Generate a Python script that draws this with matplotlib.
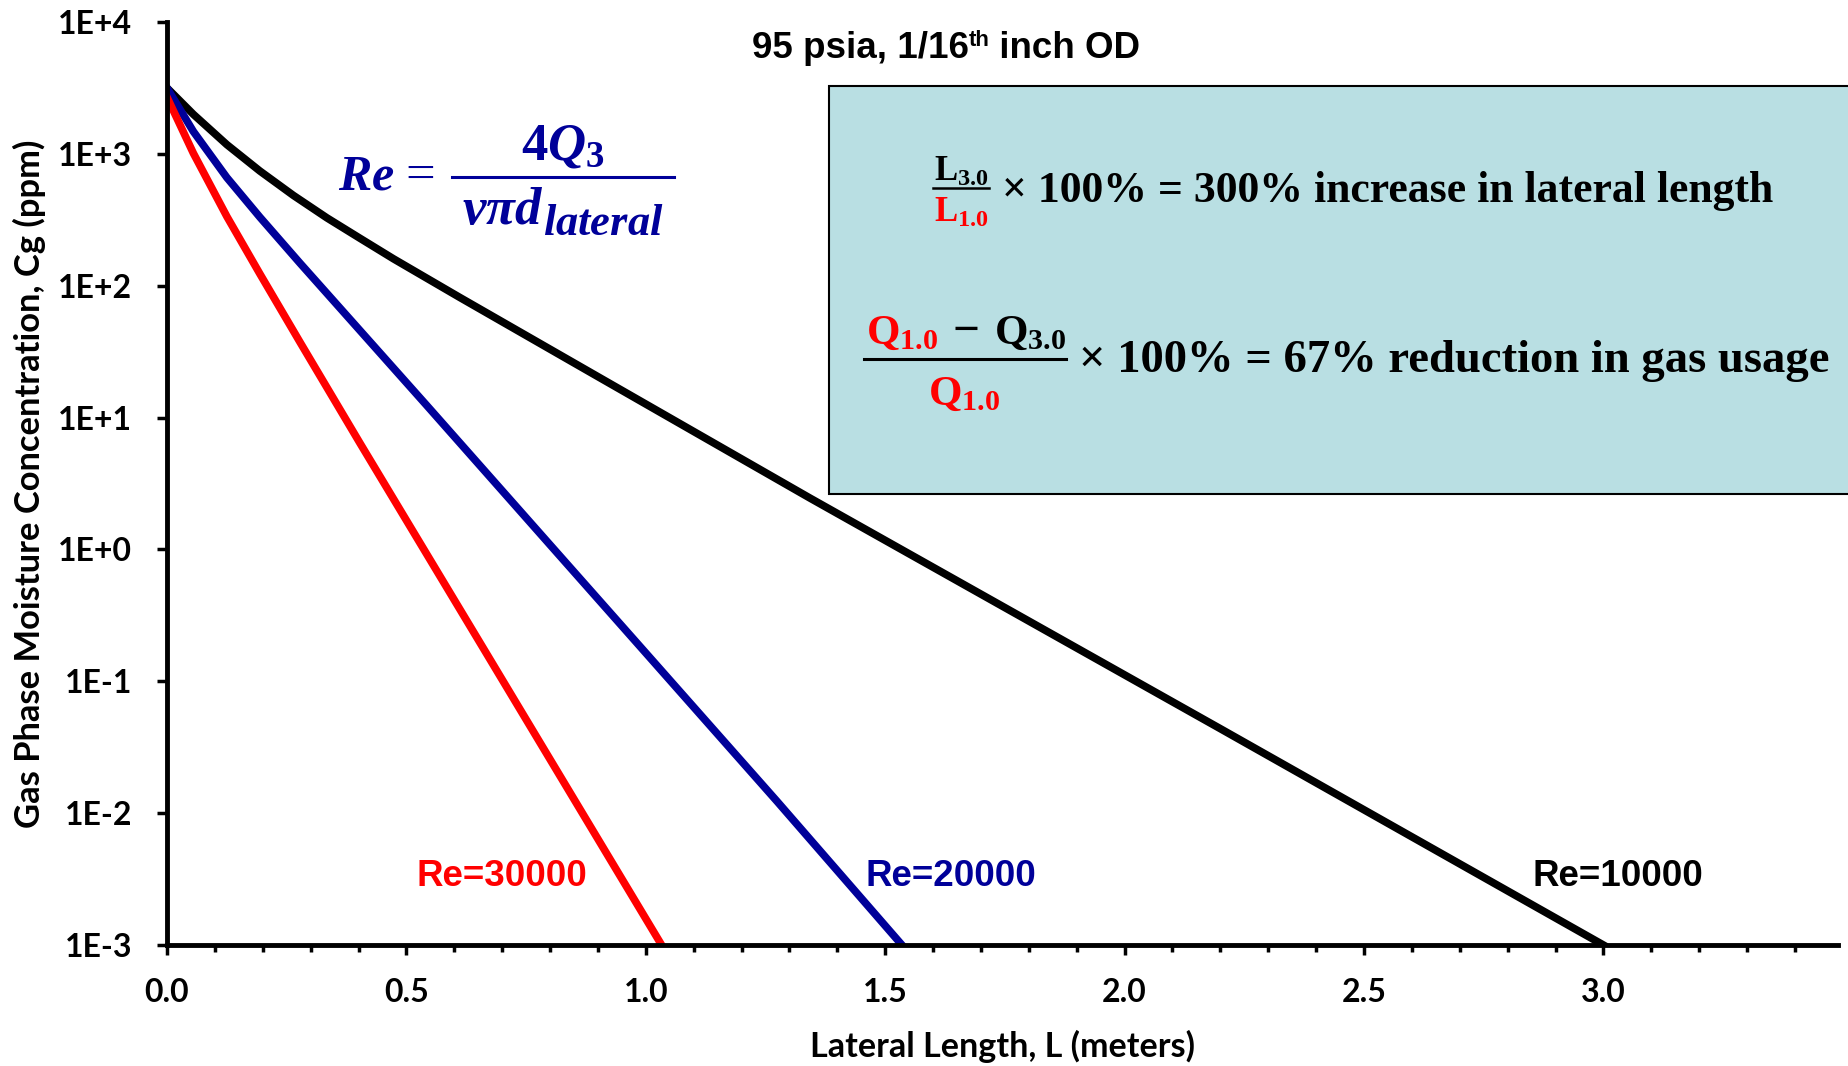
import matplotlib
matplotlib.use("Agg")
import matplotlib.pyplot as plt
from matplotlib.ticker import MultipleLocator, NullLocator
from matplotlib.patches import Rectangle
from matplotlib.lines import Line2D

# lateral length (m) -> gas phase moisture (ppm)
length_re10000 = [0.0, 0.055, 0.125, 0.194, 0.264, 0.334, 0.403, 0.473, 0.612,
                  0.905, 1.343, 2.2, 3.0]
conc_re10000 = [3162, 1995, 1175, 741, 484, 327, 229, 160, 81.3,
                19.95, 2.45, 0.0437, 0.001]

length_re20000 = [0.0, 0.055, 0.125, 0.194, 0.278, 0.543, 0.800, 1.0, 1.274, 1.535]
conc_re20000 = [3162, 1479, 661, 331, 148, 12.3, 1.084, 0.164, 0.0123, 0.001]

length_re30000 = [0.0, 0.055, 0.125, 0.194, 0.278, 0.403, 0.664, 1.033]
conc_re30000 = [2692, 1012, 335, 123, 37.2, 6.40, 0.170, 0.001]

re_labels = ["Re=10000", "Re=20000", "Re=30000"]
line_colors = ["black", "#000099", "#ff0000"]

ytick_vals = [1e-3, 1e-2, 1e-1, 1e0, 1e1, 1e2, 1e3, 1e4]
ytick_labels = ["1E-3", "1E-2", "1E-1", "1E+0", "1E+1", "1E+2", "1E+3", "1E+4"]
xtick_vals = [0.0, 0.5, 1.0, 1.5, 2.0, 2.5, 3.0]
xtick_labels = ["0.0", "0.5", "1.0", "1.5", "2.0", "2.5", "3.0"]

plt.rcParams['font.family'] = 'Lato'
plt.rcParams['font.weight'] = 'bold'
plt.rcParams['axes.labelweight'] = 'bold'
plt.rcParams['mathtext.fontset'] = 'custom'
plt.rcParams['mathtext.rm'] = 'Liberation Serif:bold'
plt.rcParams['mathtext.bf'] = 'Liberation Serif:bold'
plt.rcParams['mathtext.it'] = 'Liberation Serif:italic:bold'

W, H = 1849, 1066
fig = plt.figure(figsize=(W / 100, H / 100), dpi=100)
r = fig.canvas.get_renderer()


def px(x, y):
    # pixel position (from top left) -> figure fraction
    return x / W, 1 - y / H


def text_width(s, **kw):
    t = fig.text(0, 0, s, **kw)
    w = t.get_window_extent(r).width
    t.remove()
    return w


# axes box in pixels
x0, x1, y0, y1 = 167, 1838, 22, 945
ax = fig.add_axes([x0 / W, 1 - y1 / H, (x1 - x0) / W, (y1 - y0) / H])

series = [(length_re10000, conc_re10000), (length_re20000, conc_re20000),
          (length_re30000, conc_re30000)]
for (L, C), col in zip(series, line_colors):
    ax.plot(L, C, color=col, lw=5.5, solid_joinstyle='round')

ax.set_yscale('log')
ax.set_ylim(1e-3, 1e4)
ax.set_xlim(0, 3.49)
ax.set_yticks(ytick_vals, ytick_labels)
ax.yaxis.set_minor_locator(NullLocator())
ax.set_xticks(xtick_vals, xtick_labels)
ax.xaxis.set_minor_locator(MultipleLocator(0.1))

for s in ['top', 'right']:
    ax.spines[s].set_visible(False)
for s in ['left', 'bottom']:
    ax.spines[s].set_linewidth(3.5)

ax.tick_params(which='major', direction='out', length=7, width=2.5, labelsize=23)
ax.tick_params(axis='x', which='major', pad=17)
ax.tick_params(axis='y', which='major', pad=18)
ax.tick_params(axis='x', which='minor', direction='out', length=5, width=2.5)

ax.set_xlabel('Lateral Length, L (meters)', fontsize=24.6, va='center')
ax.xaxis.set_label_coords(0.5, -0.1094)
ax.set_ylabel('Gas Phase Moisture Concentration, Cg (ppm)', fontsize=24.8, va='center')
ax.yaxis.set_label_coords(-0.0826, 0.5)

# curve labels
label_L = [3.03, 1.638, 0.70]
label_C = 0.0033
for lx, txt, col in zip(label_L, re_labels, line_colors):
    ax.text(lx, label_C, txt, color=col, ha='center', va='center',
            fontsize=26.5, family='Liberation Sans', weight='bold')

# title, pieced together so the superscript stays in the same font
sans = dict(family='Liberation Sans', weight='bold')
parts = [('95 psia, 1/16', 26.5, 0), ('th', 16, -12), (' inch OD', 26.5, 0)]
widths = [text_width(s, fontsize=fs, **sans) for s, fs, dy in parts]
xpos = 946 - sum(widths) / 2
for (s, fs, dy), w in zip(parts, widths):
    fig.text(*px(xpos, 58 + dy), s, fontsize=fs, ha='left', va='baseline', **sans)
    xpos += w

# Reynolds number formula, Re = 4Q3 / (nu pi d_lateral)
blue = '#000099'
fig.text(*px(338, 190), r'$Re$', ha='left', va='baseline', fontsize=36, color=blue)
fig.text(*px(420, 190), '=', ha='center', va='baseline', fontsize=38, color=blue,
         family='Liberation Serif', weight='normal')
bar_l, bar_r = 452, 674
bar_c = (bar_l + bar_r) / 2
fig.add_artist(Line2D([bar_l / W, bar_r / W], [1 - 177 / H] * 2, color=blue, lw=2.2))
fig.text(*px(bar_c, 160), r'$4Q_3$', ha='center', va='baseline', fontsize=38, color=blue)
den = [(r'$\nu\pi d$', 38, 224), (r'$lateral$', 32, 235)]
den_w = [text_width(s, fontsize=fs) for s, fs, yb in den]
xpos = bar_c - sum(den_w) / 2
for (s, fs, yb), w in zip(den, den_w):
    fig.text(*px(xpos, yb), s, ha='left', va='baseline', fontsize=fs, color=blue)
    xpos += w

# info box
box = Rectangle(px(829, 494), (1870 - 829) / W, (494 - 86) / H, transform=fig.transFigure,
                facecolor='#B9DFE3', edgecolor='black', lw=1.5, zorder=5, clip_on=False)
fig.add_artist(box)

serif = dict(family='Liberation Serif', weight='bold', zorder=6)

# line 1
fig.text(*px(961, 181), r'$\mathrm{L}_{3.0}$', ha='center', va='baseline', fontsize=25,
         color='black', zorder=6)
fig.add_artist(Line2D([933 / W, 989 / W], [1 - 188 / H] * 2, color='black', lw=1.8, zorder=6))
fig.text(*px(961, 222), r'$\mathrm{L}_{1.0}$', ha='center', va='baseline', fontsize=25,
         color='red', zorder=6)
fig.text(*px(1002, 202), '\u00d7 100% = 300% increase in lateral length', ha='left',
         va='baseline', fontsize=31.5, **serif)

# line 2
fig.text(*px(866, 344), r'$\mathrm{Q}_{1.0}$', ha='left', va='baseline', fontsize=31,
         color='red', zorder=6)
fig.text(*px(966, 344), '\u2212', ha='center', va='baseline', fontsize=34, **serif)
fig.text(*px(994, 344), r'$\mathrm{Q}_{3.0}$', ha='left', va='baseline', fontsize=31,
         color='black', zorder=6)
fig.add_artist(Line2D([864 / W, 1066 / W], [1 - 359 / H] * 2, color='black', lw=2.2, zorder=6))
fig.text(*px(964, 405), r'$\mathrm{Q}_{1.0}$', ha='center', va='baseline', fontsize=31,
         color='red', zorder=6)
fig.text(*px(1079, 372), '\u00d7 100% = 67% reduction in gas usage', ha='left',
         va='baseline', fontsize=33.6, **serif)

fig.savefig('out.png', dpi=100)
